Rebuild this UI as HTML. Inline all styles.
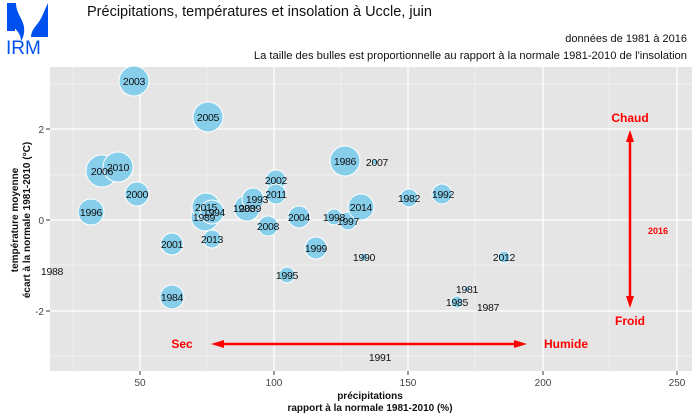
<!DOCTYPE html>
<html><head><meta charset="utf-8"><style>
body{margin:0;background:#fff;}
svg{display:block;font-family:"Liberation Sans",sans-serif;}
</style></head><body>
<svg width="700" height="420" viewBox="0 0 700 420">
<rect x="7" y="3" width="8" height="28" fill="#0050f0"/>
<path d="M7,3 h9 c0,12 10,18 8,30 c-1,6 -3,8 -3,8 c0,-8 -6,-12 -9,-16 z" fill="#0050f0"/>
<path d="M48,3 v34 h-17 c0,-6 4,-10 7,-14 c4,-5 6,-12 10,-20 z" fill="#0050f0"/>
<text x="6" y="54" font-size="19" fill="#0050f0">IRM</text>
<text x="87" y="16" font-size="14.5" fill="#111">Précipitations, températures et insolation à Uccle, juin</text>
<text x="687" y="42" font-size="11" fill="#111" text-anchor="end">données de 1981 à 2016</text>
<text x="687" y="59" font-size="11.2" fill="#111" text-anchor="end">La taille des bulles est proportionnelle au rapport à la normale 1981-2010 de l'insolation</text>
<rect x="50" y="67" width="642" height="304" fill="#e5e5e5"/>
<g stroke="#f2f2f2" stroke-width="0.8">
<line x1="73" y1="67" x2="73" y2="371"/><line x1="207" y1="67" x2="207" y2="371"/><line x1="341" y1="67" x2="341" y2="371"/><line x1="475" y1="67" x2="475" y2="371"/><line x1="609" y1="67" x2="609" y2="371"/>
<line x1="50" y1="84" x2="692" y2="84"/><line x1="50" y1="175" x2="692" y2="175"/><line x1="50" y1="265" x2="692" y2="265"/><line x1="50" y1="356" x2="692" y2="356"/>
</g>
<g stroke="#fff" stroke-width="1.3">
<line x1="140" y1="67" x2="140" y2="371"/><line x1="274" y1="67" x2="274" y2="371"/><line x1="408" y1="67" x2="408" y2="371"/><line x1="543" y1="67" x2="543" y2="371"/><line x1="677" y1="67" x2="677" y2="371"/>
<line x1="50" y1="129" x2="692" y2="129"/><line x1="50" y1="220" x2="692" y2="220"/><line x1="50" y1="311" x2="692" y2="311"/>
</g>
<g stroke="#333" stroke-width="1">
<line x1="46" y1="129" x2="50" y2="129"/><line x1="46" y1="220" x2="50" y2="220"/><line x1="46" y1="311" x2="50" y2="311"/>
<line x1="140" y1="371" x2="140" y2="375"/><line x1="274" y1="371" x2="274" y2="375"/><line x1="408" y1="371" x2="408" y2="375"/><line x1="543" y1="371" x2="543" y2="375"/><line x1="677" y1="371" x2="677" y2="375"/>
</g>
<g font-size="10" fill="#444" text-anchor="end">
<text x="44" y="133">2</text><text x="44" y="224">0</text><text x="44" y="315">-2</text>
</g>
<g font-size="10" fill="#444" text-anchor="middle">
<text x="140" y="386">50</text><text x="274" y="386">100</text><text x="408" y="386">150</text><text x="543" y="386">200</text><text x="677" y="386">250</text>
</g>
<g font-size="10" font-weight="bold" fill="#111" text-anchor="middle">
<text x="370" y="399">précipitations</text>
<text x="370" y="411">rapport à la normale 1981-2010 (%)</text>
<text transform="translate(18,220) rotate(-90)">température moyenne</text>
<text transform="translate(30,220) rotate(-90)">écart à la normale 1981-2010 (°C)</text>
</g>
<g fill="#87ceeb" stroke="#fff" stroke-width="1">
<circle cx="134" cy="81" r="15"/><circle cx="208" cy="117" r="15"/>
<circle cx="102" cy="171" r="16"/><circle cx="118" cy="167" r="15"/>
<circle cx="137" cy="194" r="12"/><circle cx="91" cy="212" r="13"/>
<circle cx="205" cy="217" r="14"/><circle cx="206" cy="207" r="14"/><circle cx="212" cy="212" r="12"/>
<circle cx="247" cy="208" r="13"/><circle cx="253" cy="199" r="11"/>
<circle cx="276" cy="180" r="10"/><circle cx="276" cy="194" r="10"/><circle cx="268" cy="226" r="10"/>
<circle cx="172" cy="244" r="11"/><circle cx="212" cy="239" r="9"/>
<circle cx="299" cy="217" r="11"/><circle cx="316" cy="248" r="11"/>
<circle cx="287" cy="275" r="8"/><circle cx="172" cy="297" r="12"/>
<circle cx="345" cy="161" r="15"/><circle cx="375" cy="162" r="3"/>
<circle cx="334" cy="217" r="8"/><circle cx="348" cy="221" r="9"/><circle cx="361" cy="207" r="13"/>
<circle cx="409" cy="198" r="9"/><circle cx="442" cy="194" r="10"/>
<circle cx="364" cy="257" r="4"/><circle cx="504" cy="257" r="6"/>
<circle cx="467" cy="289" r="3"/><circle cx="457" cy="302" r="6"/>
</g>
<g font-size="10.5" fill="#111" text-anchor="middle" letter-spacing="-0.3">
<text x="134" y="85">2003</text><text x="208" y="121">2005</text>
<text x="102" y="175">2006</text><text x="118" y="171">2010</text>
<text x="137" y="198">2000</text><text x="91" y="216">1996</text>
<text x="206" y="211">2015</text><text x="214" y="216">1994</text><text x="204" y="221">1989</text>
<text x="244" y="212">1983</text><text x="250" y="212">2009</text><text x="257" y="203">1993</text>
<text x="276" y="184">2002</text><text x="276" y="198">2011</text><text x="268" y="230">2008</text>
<text x="172" y="248">2001</text><text x="212" y="243">2013</text>
<text x="299" y="221">2004</text><text x="316" y="252">1999</text>
<text x="287" y="279">1995</text><text x="172" y="301">1984</text>
<text x="345" y="165">1986</text><text x="377" y="166">2007</text>
<text x="334" y="221">1998</text><text x="348" y="225">1997</text><text x="361" y="211">2014</text>
<text x="409" y="202">1982</text><text x="443" y="198">1992</text>
<text x="364" y="261">1990</text><text x="504" y="261">2012</text>
<text x="467" y="293">1981</text><text x="457" y="306">1985</text><text x="488" y="311">1987</text>
<text x="380" y="361">1991</text><text x="52" y="275">1988</text>
</g>
<g stroke="#ff0000" stroke-width="2.5">
<line x1="630" y1="140" x2="630" y2="300"/>
<line x1="222" y1="344" x2="516" y2="344"/>
</g>
<g fill="#ff0000">
<polygon points="630,130 626,142 634,142"/><polygon points="630,308 626,296 634,296"/>
<polygon points="211,344 224,340 224,348"/><polygon points="527,344 514,340 514,348"/>
</g>
<g font-size="12" font-weight="bold" fill="#ff0000" text-anchor="middle">
<text x="630" y="122">Chaud</text><text x="630" y="325">Froid</text>
<text x="182" y="348">Sec</text><text x="566" y="348">Humide</text>
<text x="658" y="234" font-size="9">2016</text>
</g>
</svg>
</body></html>
